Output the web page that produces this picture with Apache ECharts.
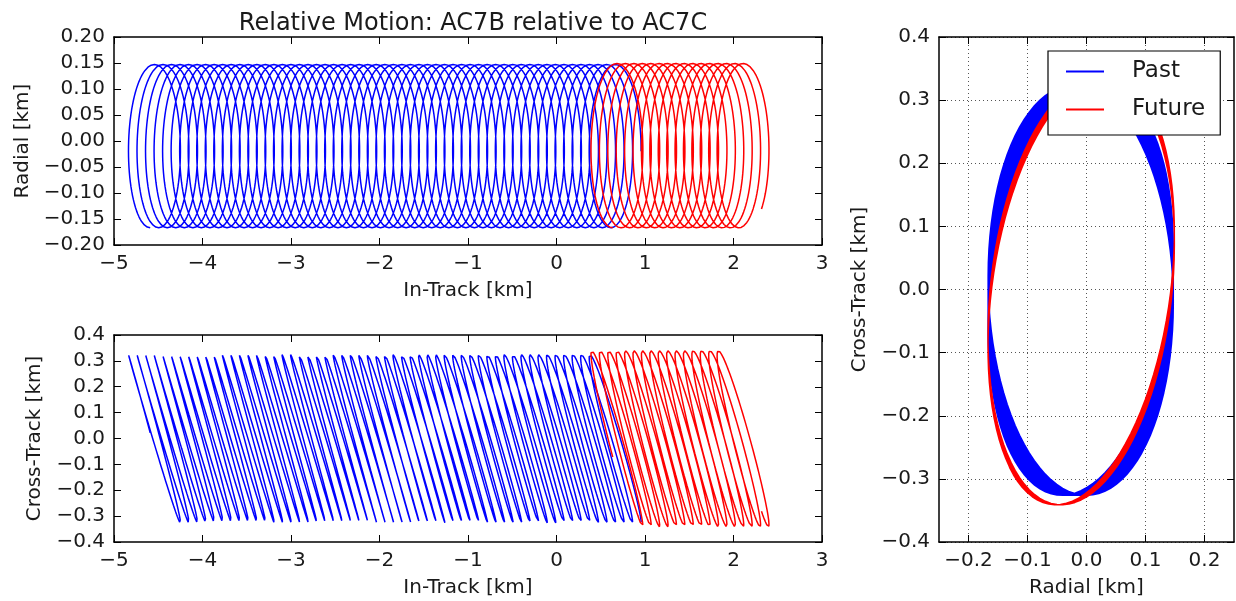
<!DOCTYPE html>
<html><head><meta charset="utf-8">
<script src="https://cdn.jsdelivr.net/npm/echarts@6/dist/echarts.min.js"></script>
<style>html,body{margin:0;padding:0;background:#fff}#c{width:1236px;height:601px}</style>
</head><body><div id="c"></div>
<script>
// ---------- values ----------
const seriesNames = ['Past', 'Future'];
// orbit phase (in revolutions, counted from each arc's own start) where each arc starts / ends
const startRev = [0.5, 0.5];
const endRev = [55.26, 16.39];
// in-track [km]: position of the first leftmost point (cross-track maximum) of each arc
const firstTopInTrack = [-4.836, 0.39];
const inTrackDrift = [0.0964, 0.095];   // per orbit
const inTrackAmp = [0.269, 0.269];
// radial [km]
const radialCenter = [-0.0098, -0.009];
const radialAmp = [0.157, 0.158];
// cross-track [km]
const crossCenter = [-0.001, -0.001];
const crossAmp = [0.325, 0.340];
const crossPhaseStartDeg = [4, -12];
const crossPhaseEndDeg = [-12, -16];

// tick labels
const inTrackTicks = [-5, -4, -3, -2, -1, 0, 1, 2, 3];
const radialTicks = [-0.2, -0.15, -0.1, -0.05, 0, 0.05, 0.1, 0.15, 0.2];
const crossTicks = [-0.4, -0.3, -0.2, -0.1, 0, 0.1, 0.2, 0.3, 0.4];
const radialTicksRight = [-0.2, -0.1, 0, 0.1, 0.2];

// ---------- build trajectories ----------
const samplesPerRev = 96;
function buildSegment(i) {
  const d = inTrackDrift[i], a = inTrackAmp[i];
  const x0 = firstTopInTrack[i] + a - 0.75 * d;
  const top = [], bottom = [], right = [];
  const n = Math.round((endRev[i] - startRev[i]) * samplesPerRev);
  for (let s = 0; s <= n; s++) {
    const rev = startRev[i] + (endRev[i] - startRev[i]) * s / n;
    const th = 2 * Math.PI * rev;
    const f = s / n;
    const ph = (crossPhaseStartDeg[i] + (crossPhaseEndDeg[i] - crossPhaseStartDeg[i]) * f) * Math.PI / 180;
    const x = x0 + d * rev + a * Math.sin(th);
    const r = radialCenter[i] + radialAmp[i] * Math.cos(th);
    const z = crossCenter[i] - crossAmp[i] * Math.sin(th + ph);
    top.push([x, r]); bottom.push([x, z]); right.push([r, z]);
  }
  return { top, bottom, right };
}
const segs = seriesNames.map((_, i) => buildSegment(i));

// ---------- styling ----------
const FONT = 'DejaVu Sans';
const TXT = '#1a1a1a';
const colors = ['#0000ff', '#ff0000'];
const minus = s => s.replace('-', '\u2212');
const fmt0 = v => minus(String(Math.round(v)));
const fmt1 = v => minus((Math.abs(v) < 1e-9 ? 0 : v).toFixed(1));
const fmt2 = v => minus((Math.abs(v) < 1e-9 ? 0 : v).toFixed(2));
const axLine = { show: true, onZero: false, lineStyle: { color: '#000', width: 1.5 } };
const axTick = { show: true, inside: true, length: 7, lineStyle: { color: '#000', width: 1 } };
const lbl = (f) => ({ show: true, color: TXT, fontFamily: FONT, fontSize: 20, formatter: f, margin: 9, showMinLabel: true, showMaxLabel: true, hideOverlap: false });
const nameStyle = { color: TXT, fontFamily: FONT, fontSize: 20 };
const dotted = { show: true, lineStyle: { color: '#555', width: 1, type: [1, 3] } };

function mainX(grid, ticks, f, name, extra) {
  return Object.assign({
    type: 'value', gridIndex: grid, position: 'bottom', min: ticks[0], max: ticks[ticks.length - 1],
    interval: ticks[1] - ticks[0], axisLine: axLine, axisTick: axTick, axisLabel: lbl(f),
    splitLine: { show: false }, name: name, nameLocation: 'middle', nameGap: 36, nameTextStyle: nameStyle
  }, extra || {});
}
function mainY(grid, ticks, f, name, gap, extra) {
  return Object.assign({
    type: 'value', gridIndex: grid, position: 'left', min: ticks[0], max: ticks[ticks.length - 1],
    interval: ticks[1] - ticks[0], axisLine: axLine, axisTick: axTick, axisLabel: lbl(f),
    splitLine: { show: false }, name: name, nameLocation: 'middle', nameGap: gap, nameTextStyle: nameStyle
  }, extra || {});
}
function sideAxis(grid, pos, min, max, interval, custom) {
  const a = {
    type: 'value', gridIndex: grid, position: pos, min: min, max: max, interval: interval,
    axisLine: axLine, axisTick: Object.assign({}, axTick), axisLabel: { show: false }, splitLine: { show: false }
  };
  if (custom) a.axisTick.customValues = custom;
  return a;
}

const xAxis = [
  mainX(0, inTrackTicks, fmt0, 'In-Track [km]'),
  sideAxis(0, 'top', -5, 3, 1),
  mainX(1, inTrackTicks, fmt0, 'In-Track [km]'),
  sideAxis(1, 'top', -5, 3, 1),
  {
    type: 'value', gridIndex: 2, position: 'bottom', min: -0.25, max: 0.25,
    axisLine: axLine,
    axisTick: Object.assign({}, axTick, { customValues: radialTicksRight }),
    axisLabel: Object.assign(lbl(fmt1), { customValues: radialTicksRight }),
    splitLine: dotted,
    name: 'Radial [km]', nameLocation: 'middle', nameGap: 36, nameTextStyle: nameStyle
  },
  sideAxis(2, 'top', -0.25, 0.25, null, radialTicksRight)
];
const yAxis = [
  mainY(0, radialTicks, fmt2, 'Radial [km]', 80),
  sideAxis(0, 'right', -0.2, 0.2, 0.05),
  mainY(1, crossTicks, fmt1, 'Cross-Track [km]', 69),
  sideAxis(1, 'right', -0.4, 0.4, 0.1),
  mainY(2, crossTicks, fmt1, 'Cross-Track [km]', 69, { splitLine: dotted }),
  sideAxis(2, 'right', -0.4, 0.4, 0.1)
];

const series = [];
const views = [['top', 0, 1.5], ['bottom', 2, 1.5], ['right', 4, 1.4]];
views.forEach(([key, ax, w]) => {
  seriesNames.forEach((nm, i) => {
    series.push({
      type: 'line', name: nm, xAxisIndex: ax, yAxisIndex: ax, data: segs[i][key],
      showSymbol: false, symbol: 'none', smooth: false, animation: false, silent: true,
      lineStyle: { color: colors[i], width: w }, itemStyle: { color: colors[i] }, z: 2 + i
    });
  });
});

const chart = echarts.init(document.getElementById('c'), null, { renderer: 'canvas' });
chart.setOption({
  animation: false,
  backgroundColor: '#fff',
  textStyle: { fontFamily: FONT },
  title: {
    text: 'Relative Motion: AC7B relative to AC7C', left: 468, top: 7, textAlign: 'center',
    textStyle: { color: TXT, fontFamily: FONT, fontSize: 24, fontWeight: 'normal' }
  },
  grid: [
    { left: 114, top: 37, width: 708, height: 208, containLabel: false, outerBoundsMode: 'none' },
    { left: 114, top: 335, width: 708, height: 207, containLabel: false, outerBoundsMode: 'none' },
    { left: 939, top: 37, width: 295, height: 505, containLabel: false, outerBoundsMode: 'none' }
  ],
  xAxis: xAxis,
  yAxis: yAxis,
  legend: {
    data: seriesNames, orient: 'vertical', left: 1048, top: 51,
    backgroundColor: '#fff', borderColor: '#000', borderWidth: 1.2, borderRadius: 0,
    padding: [9, 15, 14, 18], itemGap: 15, itemWidth: 38, itemHeight: 2, icon: 'rect',
    selectedMode: false,
    textStyle: { color: TXT, fontFamily: FONT, fontSize: 23, padding: [0, 0, 0, 23] }
  },
  series: series
});
</script></body></html>
